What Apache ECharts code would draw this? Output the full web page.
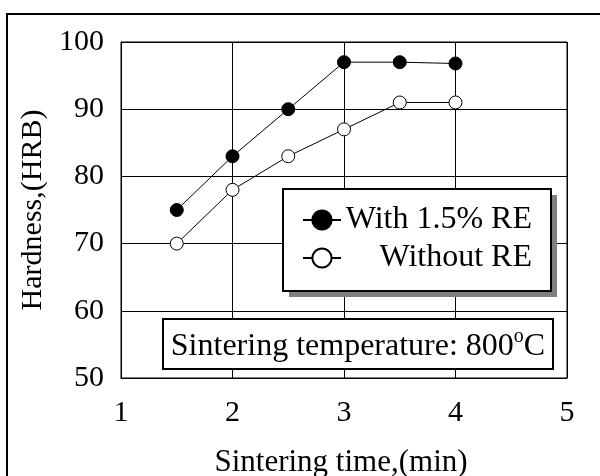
<!DOCTYPE html>
<html>
<head>
<meta charset="utf-8">
<script src="https://cdn.jsdelivr.net/npm/echarts@6/dist/echarts.min.js"></script>
<style>
  html, body { margin: 0; padding: 0; background: #fff; }
  #chart { width: 600px; height: 476px; }
</style>
</head>
<body>
<div id="chart"></div>
<script>
// Hardness vs sintering time, sintered at 800 °C
const sinteringTime = [1.5, 2, 2.5, 3, 3.5, 4];          // min
const hardnessWithRE = [75, 83, 90, 97, 97, 96.8];        // HRB, 1.5% rare earth added
const hardnessWithoutRE = [70, 78, 83, 87, 91, 91];       // HRB, no rare earth
const seriesNames = ['With 1.5% RE', 'Without RE'];
const xTicks = { min: 1, max: 5, step: 1 };
const yTicks = { min: 50, max: 100, step: 10 };

const FONT = 'Liberation Serif';
const pairs = (xs, ys) => xs.map((x, i) => [x, ys[i]]);

const chart = echarts.init(document.getElementById('chart'), null, { renderer: 'canvas' });

chart.setOption({
  animation: false,
  backgroundColor: '#fff',
  grid: {
    left: 121, top: 42, right: 33, bottom: 98,
    outerBoundsMode: 'none',
    containLabel: false,
    show: true, borderColor: '#000', borderWidth: 1, backgroundColor: 'transparent'
  },
  xAxis: {
    type: 'value',
    min: xTicks.min, max: xTicks.max, interval: xTicks.step,
    name: 'Sintering time,(min)',
    nameLocation: 'middle',
    nameGap: 69,
    nameTextStyle: { fontFamily: FONT, fontSize: 31, color: '#000', padding: [0, 6, 0, 0] },
    axisLine: { show: true, lineStyle: { color: '#000', width: 1 } },
    axisTick: { show: false },
    axisLabel: { fontFamily: FONT, fontSize: 30, color: '#000', margin: 20 },
    splitLine: { show: true, lineStyle: { color: '#000', width: 1 } }
  },
  yAxis: {
    type: 'value',
    min: yTicks.min, max: yTicks.max, interval: yTicks.step,
    name: 'Hardness,(HRB)',
    nameLocation: 'middle',
    nameGap: 53,
    nameTextStyle: { fontFamily: FONT, fontSize: 30, color: '#000' },
    axisLine: { show: true, lineStyle: { color: '#000', width: 1 } },
    axisTick: { show: false },
    axisLabel: { fontFamily: FONT, fontSize: 30, color: '#000', margin: 17 },
    splitLine: { show: true, lineStyle: { color: '#000', width: 1 } }
  },
  legend: {
    orient: 'vertical',
    left: 302, top: 204,
    padding: 0,
    itemWidth: 38, itemHeight: 24, itemGap: 6,
    data: seriesNames,
    formatter: name => '{t|' + name + '}',
    textStyle: {
      fontFamily: FONT, fontSize: 32, color: '#000',
      rich: { t: { fontFamily: FONT, fontSize: 32, color: '#000', width: 186, align: 'right', lineHeight: 32 } }
    }
  },
  graphic: [
    // outer frame, open past the right and bottom edges
    { type: 'rect', z: 0, silent: true,
      shape: { x: 7, y: 14, width: 700, height: 600 },
      style: { fill: 'none', stroke: '#000', lineWidth: 2 } },
    // legend box shadow + box
    { type: 'rect', z: 1, silent: true,
      shape: { x: 289, y: 195, width: 268, height: 102 },
      style: { fill: '#808080', stroke: 'none' } },
    { type: 'rect', z: 1, silent: true,
      shape: { x: 283, y: 189, width: 268, height: 102 },
      style: { fill: '#fff', stroke: '#000', lineWidth: 2 } },
    // temperature note
    { type: 'rect', z: 1, silent: true,
      shape: { x: 163, y: 319, width: 390, height: 50 },
      style: { fill: '#fff', stroke: '#000', lineWidth: 2 } },
    { type: 'text', z: 2, silent: true,
      x: 358, y: 345,
      style: {
        text: '{t|Sintering temperature: 800}{s|o}{t|C}',
        align: 'center', verticalAlign: 'middle',
        fill: '#000',
        rich: {
          t: { fontFamily: FONT, fontSize: 32, fill: '#000', lineHeight: 36, verticalAlign: 'bottom' },
          s: { fontFamily: FONT, fontSize: 20, fill: '#000', lineHeight: 36, verticalAlign: 'top' }
        }
      } }
  ],
  series: [
    {
      name: seriesNames[0],
      type: 'line',
      data: pairs(sinteringTime, hardnessWithRE),
      symbol: 'circle', symbolSize: 13,
      lineStyle: { color: '#000', width: 1 },
      itemStyle: { color: '#000', borderColor: '#000', borderWidth: 1 },
      z: 3
    },
    {
      name: seriesNames[1],
      type: 'line',
      data: pairs(sinteringTime, hardnessWithoutRE),
      symbol: 'circle', symbolSize: 13,
      lineStyle: { color: '#000', width: 1 },
      itemStyle: { color: '#fff', borderColor: '#000', borderWidth: 1 },
      z: 3
    }
  ]
});
</script>
</body>
</html>
